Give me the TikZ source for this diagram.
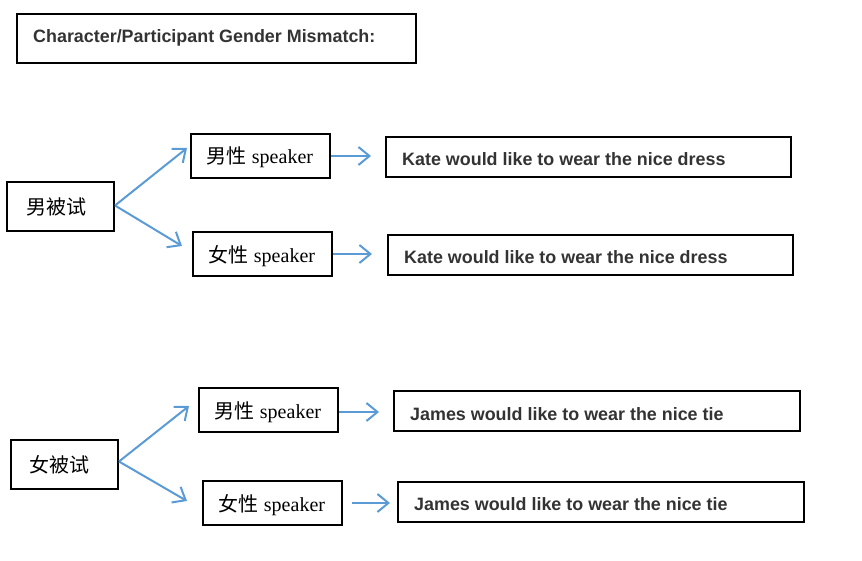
\documentclass[tikz,border=0pt]{standalone}
\usepackage{fontspec}
\setmainfont{Liberation Serif}
\newfontfamily\cjk{Noto Sans CJK SC}
\newfontfamily\arialf{Liberation Sans}
\usetikzlibrary{arrows.meta,calc}
\definecolor{arrowblue}{HTML}{5B9BD5}
\definecolor{txtgray}{HTML}{333333}
\tikzset{
  box/.style={draw=black, line width=2pt, rectangle, inner sep=0pt},
  boldtxt/.style={font=\arialf\bfseries\fontsize{17.9}{20}\selectfont, text=txtgray, inner sep=0pt, anchor=base west},
  spk/.style={font=\fontsize{20}{22}\selectfont, inner sep=0pt, anchor=base},
  subj/.style={font=\cjk\fontsize{20}{22}\selectfont, inner sep=0pt},
  link/.style={draw=arrowblue, line width=2pt, -{Straight Barb[length=11pt,width=18pt,line width=2pt]}}
}
\begin{document}
\begin{tikzpicture}[x=1pt,y=-1pt]
\useasboundingbox (0,0) rectangle (862,561);
% title
\node[box, minimum width=399pt, minimum height=49pt] (title) at (216.5,38.5) {};
\node[boldtxt] (titletxt) at (33,43) {Character/Participant Gender Mismatch:};
% top group
\node[box, minimum width=107pt, minimum height=49pt] (b1) at (60.5,206.5) {};
\node[subj] (b1t) at (56,206.5) {男被试};
\node[box, minimum width=139pt, minimum height=44pt] (s1) at (260.5,156) {};
\node[spk] (s1t) at (260,164) {{\cjk 男性} speaker};
\node[box, minimum width=139pt, minimum height=44pt] (s2) at (262.5,254) {};
\node[spk] (s2t) at (262,263) {{\cjk 女性} speaker};
\node[box, minimum width=405pt, minimum height=40pt] (k1) at (588.5,157) {};
\node[boldtxt] (k1t) at (402,166) {Kate would like to wear the nice dress};
\node[box, minimum width=405pt, minimum height=40pt] (k2) at (590.5,255) {};
\node[boldtxt] (k2t) at (404,264) {Kate would like to wear the nice dress};
% bottom group
\node[box, minimum width=107pt, minimum height=49pt] (b2) at (64.5,464.5) {};
\node[subj] (b2t) at (59.5,464.5) {女被试};
\node[box, minimum width=139pt, minimum height=44pt] (s3) at (268.5,410) {};
\node[spk] (s3t) at (268,418) {{\cjk 男性} speaker};
\node[box, minimum width=139pt, minimum height=44pt] (s4) at (272.5,503) {};
\node[spk] (s4t) at (272,511) {{\cjk 女性} speaker};
\node[box, minimum width=406pt, minimum height=40pt] (j1) at (597,411) {};
\node[boldtxt] (j1t) at (410,420) {James would like to wear the nice tie};
\node[box, minimum width=406pt, minimum height=40pt] (j2) at (601,502) {};
\node[boldtxt] (j2t) at (414,510.5) {James would like to wear the nice tie};
% arrows
\draw[link] ([yshift=1pt]b1.east) -- ([xshift=-3pt,yshift=8pt]s1.west);
\draw[link] ([yshift=1pt]b1.east) -- ([xshift=-10pt,yshift=8pt]s2.west);
\draw[link, shorten >=14pt] (s1.east) -- (s1.east -| k1.west);
\draw[link, shorten >=15pt] (s2.east) -- (s2.east -| k2.west);
\draw[link] ([yshift=3pt]b2.east) -- ([xshift=-9pt,yshift=4pt]s3.west);
\draw[link] ([yshift=3pt]b2.east) -- ([xshift=-15pt,yshift=2pt]s4.west);
\draw[link, shorten >=14pt] ([yshift=-2pt]s3.east) -- ([yshift=-2pt]s3.east -| j1.west);
\draw[link, shorten <=9pt, shorten >=7pt] (s4.east) -- (s4.east -| j2.west);
\end{tikzpicture}
\end{document}
